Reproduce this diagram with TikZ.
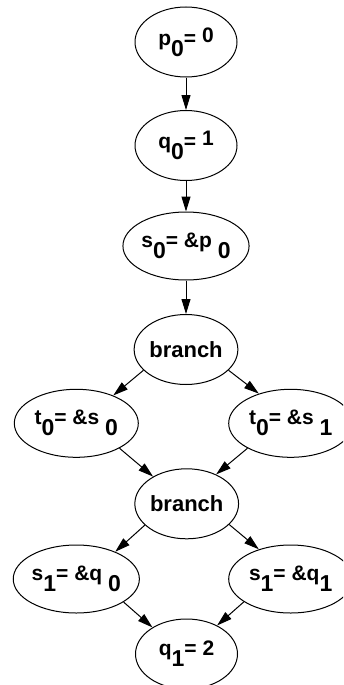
\documentclass[tikz,border=0pt]{standalone}
\usepackage{fontspec}
\setmainfont{Liberation Sans}
\usetikzlibrary{arrows.meta,shapes.geometric}
\newcommand{\lsub}[1]{\raisebox{-11pt}{\fontsize{23}{23}\selectfont #1}}
\newcommand{\lup}[1]{\raisebox{3pt}{#1}}
\begin{document}
\begin{tikzpicture}[x=1pt,y=-1pt,
  st/.style={draw, ellipse, line width=1pt, inner sep=0pt,
    font=\bfseries\fontsize{21}{21}\selectfont},
  sm/.style={st, minimum width=102, minimum height=70},
  wd/.style={st, minimum width=124, minimum height=68},
  br/.style={sm, font=\bfseries\fontsize{22}{22}\selectfont},
  arr/.style={line width=1pt, -{Triangle[length=15pt,width=9pt]}}]
\useasboundingbox (0,0) rectangle (343,685);
\clip (0,0) rectangle (343,685);
\node[sm] (p0) at (186,42) {p\lsub{0}= \lup{0}};
\node[sm] (q0) at (186,145.5) {q\lsub{0}= \lup{1}};
\node[wd] (s0) at (186,246) {s\lsub{0}= \&p \lsub{0}};
\node[br] (b1) at (186,349.5) {branch};
\node[wd] (t0s0) at (76.3,423.3) {t\lsub{0}= \&s \lsub{0}};
\node[wd] (t0s1) at (290.7,423.3) {t\lsub{0}= \&s \lsub{1}};
\node[br] (b2) at (186.7,503.8) {branch};
\node[wd] (s1q0) at (76.3,579) {s\lsub{1}= \&q \lsub{0}};
\node[wd] (s1q1) at (290.7,579) {s\lsub{1}= \&q\lsub{1}};
\node[sm] (q1) at (186.5,654) {q\lsub{1}= 2};
\draw[arr] (p0.south) -- (q0.north);
\draw[arr] (q0.south) -- (s0.north);
\draw[arr] (s0.south) -- (b1.north);
\draw[arr] (b1.206) -- (t0s0.37);
\draw[arr] (b1.334) -- (t0s1.137);
\draw[arr] (t0s0.330) -- (b2.141);
\draw[arr] (t0s1.210) -- (b2.45);
\draw[arr] (b2.207) -- (s1q0.35);
\draw[arr] (b2.334) -- (s1q1.137);
\draw[arr] (s1q0.334) -- (q1.142);
\draw[arr] (s1q1.206) -- (q1.43);
\end{tikzpicture}
\end{document}
